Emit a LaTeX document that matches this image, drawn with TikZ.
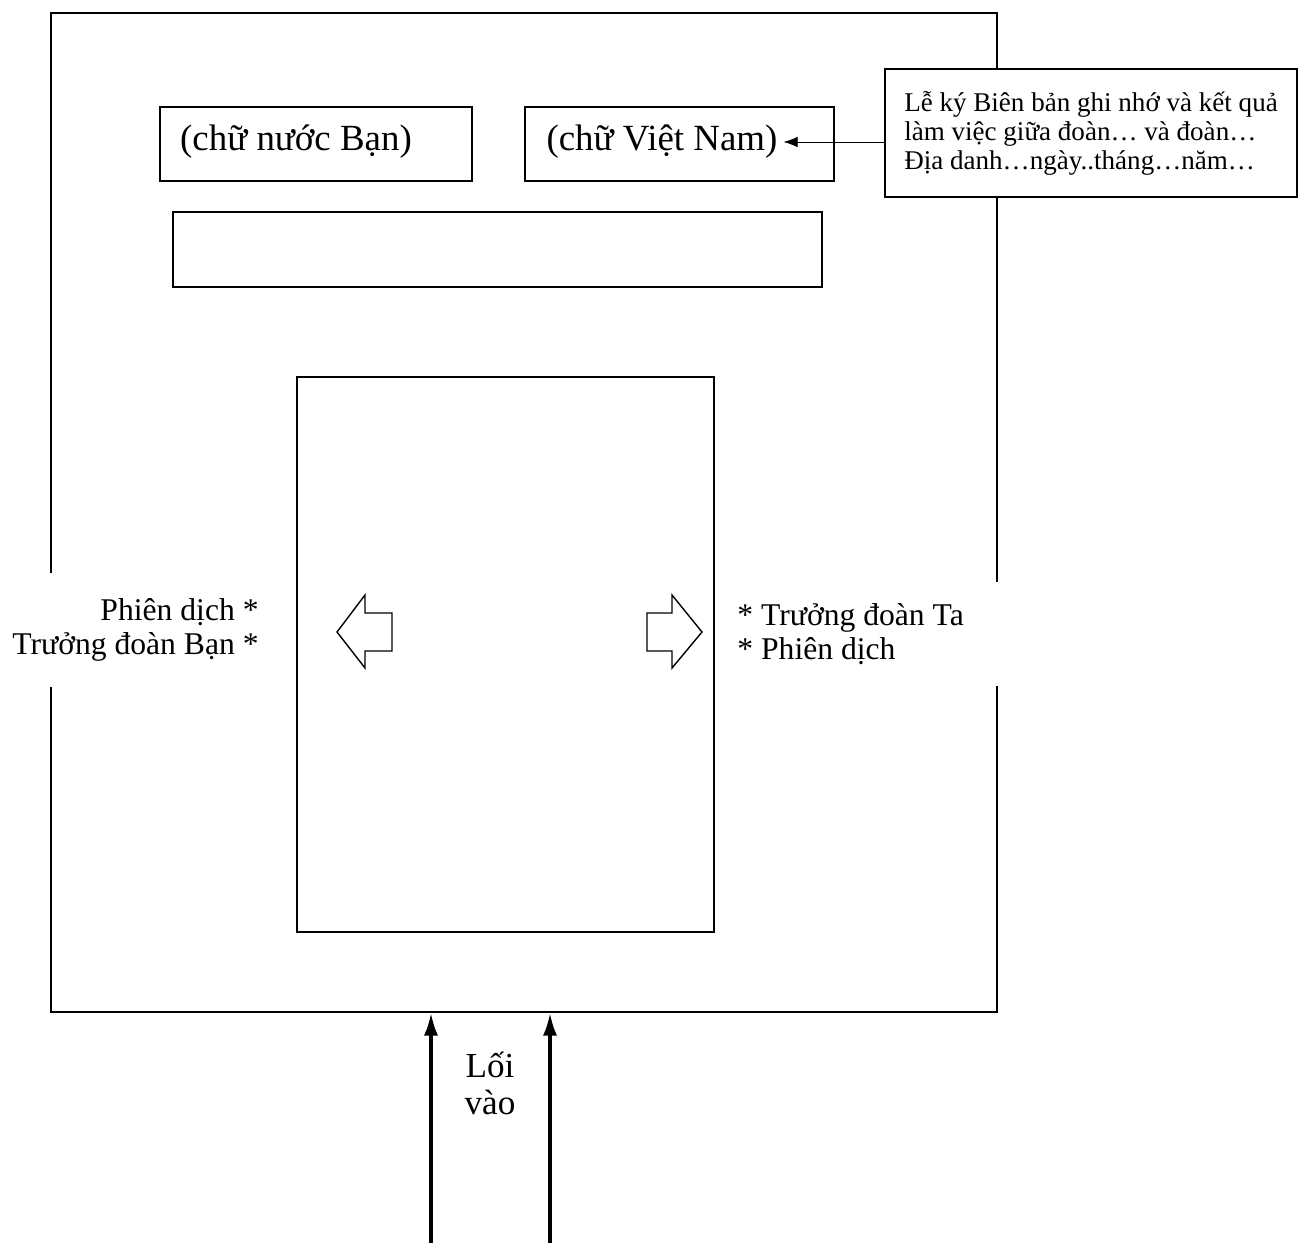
\documentclass[tikz,border=0pt]{standalone}
\usepackage{fontspec}
\setmainfont{Liberation Serif}
\usetikzlibrary{arrows.meta}
\begin{document}
\begin{tikzpicture}[x=0.02cm,y=-0.02cm,
    wall/.style={draw,line width=0.9pt,inner sep=0pt},
    sign/.style={font=\fontsize{21}{21}\selectfont},
    side/.style={fill=white,inner sep=8pt,font=\fontsize{18}{19.5}\selectfont},
    entry/.style={line width=2pt,-{Latex[length=13pt,width=8pt]}}]
  \useasboundingbox (0,0) rectangle (1298,1243);
  \node[wall,minimum width=18.92cm,minimum height=19.98cm] (room) at (524,512.5) {};
  \node[wall,minimum width=6.24cm,minimum height=1.48cm] (banbox) at (316,144) {};
  \node[wall,minimum width=6.18cm,minimum height=1.48cm] (vnbox) at (679.5,144) {};
  \node[wall,minimum width=12.98cm,minimum height=1.5cm] (banner) at (497.5,249.5) {};
  \node[wall,minimum width=8.34cm,minimum height=11.1cm] (table) at (505.5,654.5) {};
  \node[sign] (bantext) at (296,142) {(chữ nước Bạn)};
  \node[sign] (vntext) at (662,142) {(chữ Việt Nam)};
  \node[wall,fill=white,minimum width=8.24cm,minimum height=2.56cm,align=left,
    font=\fontsize{15.4}{16.5}\selectfont] (note) at (1091,133)
    {Lễ ký Biên bản ghi nhớ và kết quả\\làm việc giữa đoàn… và đoàn…\\Địa danh…ngày..tháng…năm…};
  \draw[-{Latex[length=8pt,width=6pt]}] (note.west |- vntext.east) -- (vntext.east);
  \node[side,anchor=east,align=right,minimum height=2.3cm] (bansides) at (273,630)
    {Phiên dịch *\\Trưởng đoàn Bạn *};
  \node[side,anchor=west,align=flush left,minimum height=2.1cm,text width=5.36cm] (tasides) at (723,634)
    {* Trưởng đoàn Ta\\{}* Phiên dịch};
  \draw[line width=0.8pt] (337,632) -- (365,595) -- (365,613) -- (392,613) -- (392,651)
    -- (365,651) -- (365,668) -- cycle;
  \draw[line width=0.8pt] (702,632) -- (672,595) -- (672,613) -- (647,613) -- (647,651)
    -- (672,651) -- (672,668) -- cycle;
  \coordinate (in1) at (431,1243);
  \coordinate (in2) at (550,1243);
  \draw[entry] (in1) -- (in1 |- room.south);
  \draw[entry] (in2) -- (in2 |- room.south);
  \node[align=center,font=\fontsize{20}{21}\selectfont] (entrance) at (490,1083) {Lối\\vào};
\end{tikzpicture}
\end{document}
